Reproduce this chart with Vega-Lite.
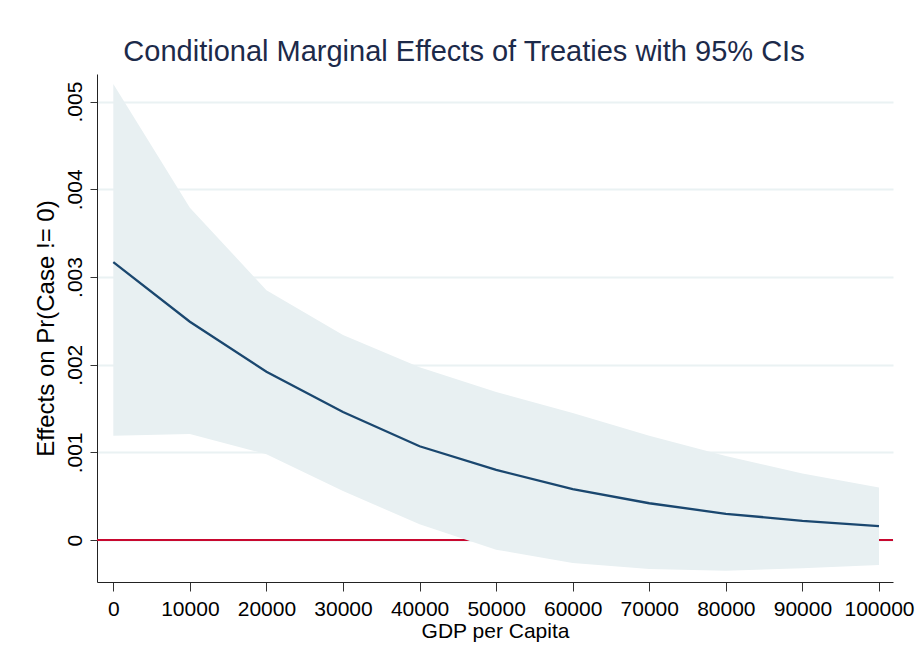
{
  "$schema": "https://vega.github.io/schema/vega-lite/v6.json",
  "width": 796,
  "height": 508,
  "autosize": {"type": "none"},
  "padding": {"left": 97, "top": 74, "right": 25, "bottom": 85},
  "background": "white",
  "title": {
    "text": "Conditional Marginal Effects of Treaties with 95% CIs",
    "font": "Liberation Sans",
    "fontSize": 29,
    "fontWeight": "normal",
    "color": "#1c2a4a",
    "anchor": "middle",
    "dx": -31,
    "offset": 7
  },
  "data": {
    "values": [
      {"gdp": 0, "est": 0.00317, "lo": 0.00119, "hi": 0.0052},
      {"gdp": 10000, "est": 0.00249, "lo": 0.00121, "hi": 0.00379},
      {"gdp": 20000, "est": 0.00192, "lo": 0.00098, "hi": 0.00285},
      {"gdp": 30000, "est": 0.00146, "lo": 0.00056, "hi": 0.00234},
      {"gdp": 40000, "est": 0.00107, "lo": 0.00018, "hi": 0.00197},
      {"gdp": 50000, "est": 0.0008, "lo": -0.00011, "hi": 0.00169},
      {"gdp": 60000, "est": 0.00058, "lo": -0.00026, "hi": 0.00145},
      {"gdp": 70000, "est": 0.00042, "lo": -0.00033, "hi": 0.00119},
      {"gdp": 80000, "est": 0.0003, "lo": -0.00035, "hi": 0.00096},
      {"gdp": 90000, "est": 0.00022, "lo": -0.00032, "hi": 0.00076},
      {"gdp": 100000, "est": 0.00016, "lo": -0.000285, "hi": 0.0006}
    ]
  },
  "encoding": {
    "x": {
      "field": "gdp",
      "type": "quantitative",
      "scale": {"domain": [-2130, 101830], "nice": false, "zero": false},
      "axis": {
        "title": "GDP per Capita",
        "values": [0, 10000, 20000, 30000, 40000, 50000, 60000, 70000, 80000, 90000, 100000],
        "format": "d",
        "grid": false,
        "labelFontSize": 21,
        "titleFontSize": 21,
        "labelFont": "Liberation Sans",
        "titleFont": "Liberation Sans",
        "titleFontWeight": "normal",
        "labelColor": "black",
        "titleColor": "black",
        "tickSize": 9,
        "tickColor": "#333333",
        "domainColor": "#222222",
        "labelPadding": 7,
        "titlePadding": 1,
        "labelOverlap": false,
        "labelFlush": false
      }
    }
  },
  "layer": [
    {
      "mark": {"type": "rule", "color": "#c8082f", "strokeWidth": 2},
      "encoding": {"y": {"datum": 0}, "x": null}
    },
    {
      "mark": {"type": "area", "color": "#e8f0f2", "opacity": 1},
      "encoding": {
        "y": {
          "field": "lo",
          "type": "quantitative",
          "scale": {"domain": [-0.000478, 0.005315], "nice": false, "zero": false},
          "axis": {
            "title": "Effects on Pr(Case != 0)",
            "values": [0, 0.001, 0.002, 0.003, 0.004, 0.005],
            "labelExpr": "datum.value == 0 ? '0' : slice(format(datum.value, '.3f'), 1)",
            "grid": true,
            "gridColor": "#eaf2f3",
            "gridWidth": 2,
            "labelAngle": -90,
            "labelAlign": "center",
            "labelBaseline": "alphabetic",
            "labelPadding": 9,
            "labelFontSize": 21,
            "titleFontSize": 24,
            "labelFont": "Liberation Sans",
            "titleFont": "Liberation Sans",
            "titleFontWeight": "normal",
            "labelColor": "black",
            "titleColor": "black",
            "tickSize": 7,
            "tickColor": "#333333",
            "domainColor": "#222222",
            "titlePadding": 6,
            "labelOverlap": false,
            "labelFlush": false
          }
        },
        "y2": {"field": "hi"}
      }
    },
    {
      "mark": {"type": "line", "color": "#1a476f", "strokeWidth": 2.3},
      "encoding": {"y": {"field": "est", "type": "quantitative"}}
    }
  ],
  "config": {
    "view": {"stroke": null},
    "font": "Liberation Sans"
  }
}
